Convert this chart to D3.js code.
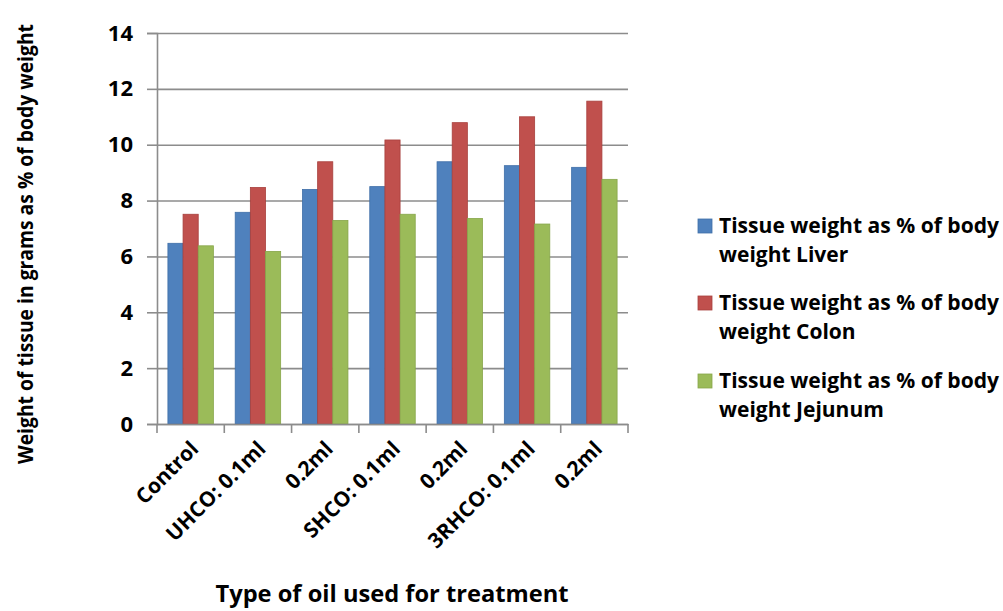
<!DOCTYPE html>
<html>
<head>
<meta charset="utf-8">
<script src="https://cdn.jsdelivr.net/npm/d3@7.9.0/dist/d3.min.js"></script>
<style>
  body { margin: 0; background: #fff; }
  svg { display: block; font-family: "Open Sans", sans-serif; font-weight: bold; }
</style>
</head>
<body>
<div id="chart"></div>
<script>
const categories = ["Control", "UHCO: 0.1ml", "0.2ml", "SHCO: 0.1ml", "0.2ml", "3RHCO: 0.1ml", "0.2ml"];
const seriesNames = [
  "Tissue weight as % of body weight Liver",
  "Tissue weight as % of body weight Colon",
  "Tissue weight as % of body weight Jejunum"
];
const liver = [6.47, 7.58, 8.40, 8.50, 9.39, 9.25, 9.19];
const colon = [7.51, 8.47, 9.39, 10.17, 10.79, 11.0, 11.56];
const jejunum = [6.38, 6.18, 7.29, 7.51, 7.36, 7.16, 8.76];
const yTicks = [0, 2, 4, 6, 8, 10, 12, 14];

const colors = ["#4F81BD", "#C0504D", "#9BBB59"];
const strokes = ["#3f6fa8", "#a8403d", "#87a64a"];

const width = 1003, height = 611;
const margin = { top: 33, right: 375, bottom: 187, left: 157 };

const svg = d3.select("#chart").append("svg")
  .attr("width", width).attr("height", height);

// keep category index so duplicate labels get their own band
const x = d3.scaleBand()
  .domain(d3.range(categories.length))
  .range([margin.left, width - margin.right]);

const x1 = d3.scaleBand()
  .domain(d3.range(3))
  .range([0, x.bandwidth()])
  .paddingOuter(0.72);

const y = d3.scaleLinear().domain([0, 14]).range([height - margin.bottom, margin.top]);

// gridlines
svg.append("g")
  .attr("transform", `translate(${margin.left},0)`)
  .call(d3.axisLeft(y).tickValues(yTicks).tickSize(-(width - margin.right - margin.left)).tickFormat(""))
  .call(g => g.select(".domain").remove())
  .call(g => g.selectAll("line").attr("stroke", "#8c8c8c").attr("stroke-width", 1.6));

// y axis with labels
const yAxis = svg.append("g")
  .attr("transform", `translate(${margin.left},0)`)
  .call(d3.axisLeft(y).tickValues(yTicks).tickSize(10).tickPadding(14));
yAxis.select(".domain").attr("stroke", "#8c8c8c").attr("stroke-width", 1.6);
yAxis.selectAll("line").attr("stroke", "#8c8c8c").attr("stroke-width", 1.6);
yAxis.selectAll("text").attr("font-size", 22).attr("font-weight", "bold").attr("fill", "#000")
  .attr("font-family", "Open Sans");

const data = categories.map((c, i) => [liver[i], colon[i], jejunum[i]]);

const groups = svg.append("g").selectAll("g")
  .data(data)
  .join("g")
  .attr("transform", (d, i) => `translate(${x(i)},0)`);

groups.selectAll("rect")
  .data(d => d)
  .join("rect")
  .attr("x", (d, j) => x1(j))
  .attr("width", x1.bandwidth())
  .attr("y", d => y(d))
  .attr("height", d => y(0) - y(d))
  .attr("fill", (d, j) => colors[j])
  .attr("stroke", (d, j) => strokes[j])
  .attr("stroke-width", 0.8);

// x axis
const xAxis = svg.append("g")
  .attr("transform", `translate(0,${y(0)})`)
  .call(d3.axisBottom(x).tickSize(0).tickFormat(i => categories[i]));
xAxis.select(".domain").attr("stroke", "#8c8c8c").attr("stroke-width", 1.6);
xAxis.selectAll("text")
  .attr("font-size", 21).attr("font-weight", "bold").attr("fill", "#000")
  .attr("font-family", "Open Sans")
  .attr("text-anchor", "end")
  .attr("dy", null)
  .attr("transform", "translate(7,24) rotate(-45)");

// separator ticks between categories
svg.append("g").selectAll("line")
  .data(d3.range(categories.length + 1))
  .join("line")
  .attr("x1", i => margin.left + i * x.step())
  .attr("x2", i => margin.left + i * x.step())
  .attr("y1", y(0))
  .attr("y2", y(0) + 9)
  .attr("stroke", "#8c8c8c")
  .attr("stroke-width", 1.6);

// axis titles
svg.append("text")
  .attr("transform", `translate(33,${244}) rotate(-90)`)
  .attr("text-anchor", "middle")
  .attr("font-size", 21)
  .attr("textLength", 440)
  .attr("lengthAdjust", "spacingAndGlyphs")
  .text("Weight of tissue in grams  as % of body weight");

svg.append("text")
  .attr("x", 392).attr("y", 602)
  .attr("text-anchor", "middle")
  .attr("font-size", 23)
  .attr("textLength", 353)
  .attr("lengthAdjust", "spacingAndGlyphs")
  .text("Type of oil used for treatment");

// legend
const legendTop = [226, 303, 381];
const legend = svg.append("g");
seriesNames.forEach((name, j) => {
  const g = legend.append("g").attr("transform", `translate(698,${legendTop[j]})`);
  g.append("rect").attr("x", 0).attr("y", -7).attr("width", 14).attr("height", 14)
    .attr("fill", colors[j]).attr("stroke", strokes[j]).attr("stroke-width", 0.8);
  const words = name.split(" ");
  const line1 = words.slice(0, 6).join(" ");
  const line2 = words.slice(6).join(" ");
  g.append("text").attr("x", 21).attr("y", 7).attr("font-size", 21)
    .attr("textLength", 280).attr("lengthAdjust", "spacingAndGlyphs").text(line1);
  g.append("text").attr("x", 21).attr("y", 36).attr("font-size", 21).text(line2);
});
</script>
</body>
</html>
